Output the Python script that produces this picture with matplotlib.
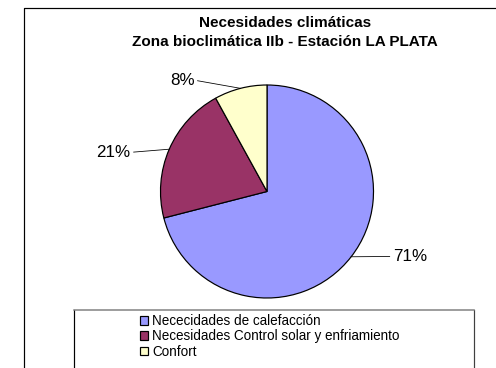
import matplotlib.pyplot as plt
import numpy as np

plt.rcParams["font.family"] = ["Liberation Sans", "DejaVu Sans"]

# data
categorias = ["Nececidades de calefacción",
              "Necesidades Control solar y enfriamiento",
              "Confort"]
valores = [71, 21, 8]
colores = ["#9999FF", "#993366", "#FFFFCC"]
titulo = ["Necesidades climáticas",
          "Zona bioclimática IIb - Estación LA PLATA"]

W, H = 496, 368
fig = plt.figure(figsize=(W / 72, H / 72), dpi=72)
ax = fig.add_axes([0, 0, 1, 1])

# outer chart frame (cut off on the right and bottom)
ax.plot([24, 24, W + 5], [-5, H - 8, H - 8], color="black", lw=1.2)

cx, cy, r = 267, H - 191.5, 106.5
wedges, _ = ax.pie(valores, colors=colores, startangle=90, counterclock=False,
                   center=(cx, cy), radius=r, frame=True,
                   wedgeprops=dict(edgecolor="black", linewidth=1.2))
ax.set_xlim(0, W)
ax.set_ylim(0, H)
ax.set_aspect("equal")
ax.axis("off")

# percentage labels with leader lines
lab_pos = [(1.18, -0.61, "left"), (-1.28, 0.37, "right"), (-0.68, 1.04, "right")]
for w, v, (lx, ly, ha) in zip(wedges, valores, lab_pos):
    ang = np.deg2rad((w.theta1 + w.theta2) / 2)
    ex, ey = cx + r * np.cos(ang), cy + r * np.sin(ang)
    tx, ty = cx + lx * r, cy + ly * r
    gap = 3 if ha == "left" else -3
    ax.plot([ex, tx - gap], [ey, ty], color="black", lw=0.8)
    ax.text(tx, ty, f"{v}%", ha=ha, va="center", fontsize=17)

ax.text(285, H - 23, titulo[0], ha="center", va="center",
        fontsize=15.2, fontweight="bold")
ax.text(285, H - 42, titulo[1], ha="center", va="center",
        fontsize=15.2, fontweight="bold")

# legend box
ax.plot([74, 74], [-5, H - 310], color="black", lw=1.2)
ax.plot([474, 474], [-5, H - 310], color="#404040", lw=1.2)
ax.plot([74, 474], [H - 310, H - 310], color="#808080", lw=1.5)

leg = ax.legend(wedges, categorias, loc="upper left",
                bbox_to_anchor=(140 / W, 1 - 314 / H), frameon=False,
                fontsize=13.5, handlelength=0.6, handleheight=0.6,
                handletextpad=0.3, labelspacing=0.1, borderpad=0,
                borderaxespad=0)
for h in leg.legend_handles:
    h.set_linewidth(1.2)

fig.savefig("out.png", dpi=72)
